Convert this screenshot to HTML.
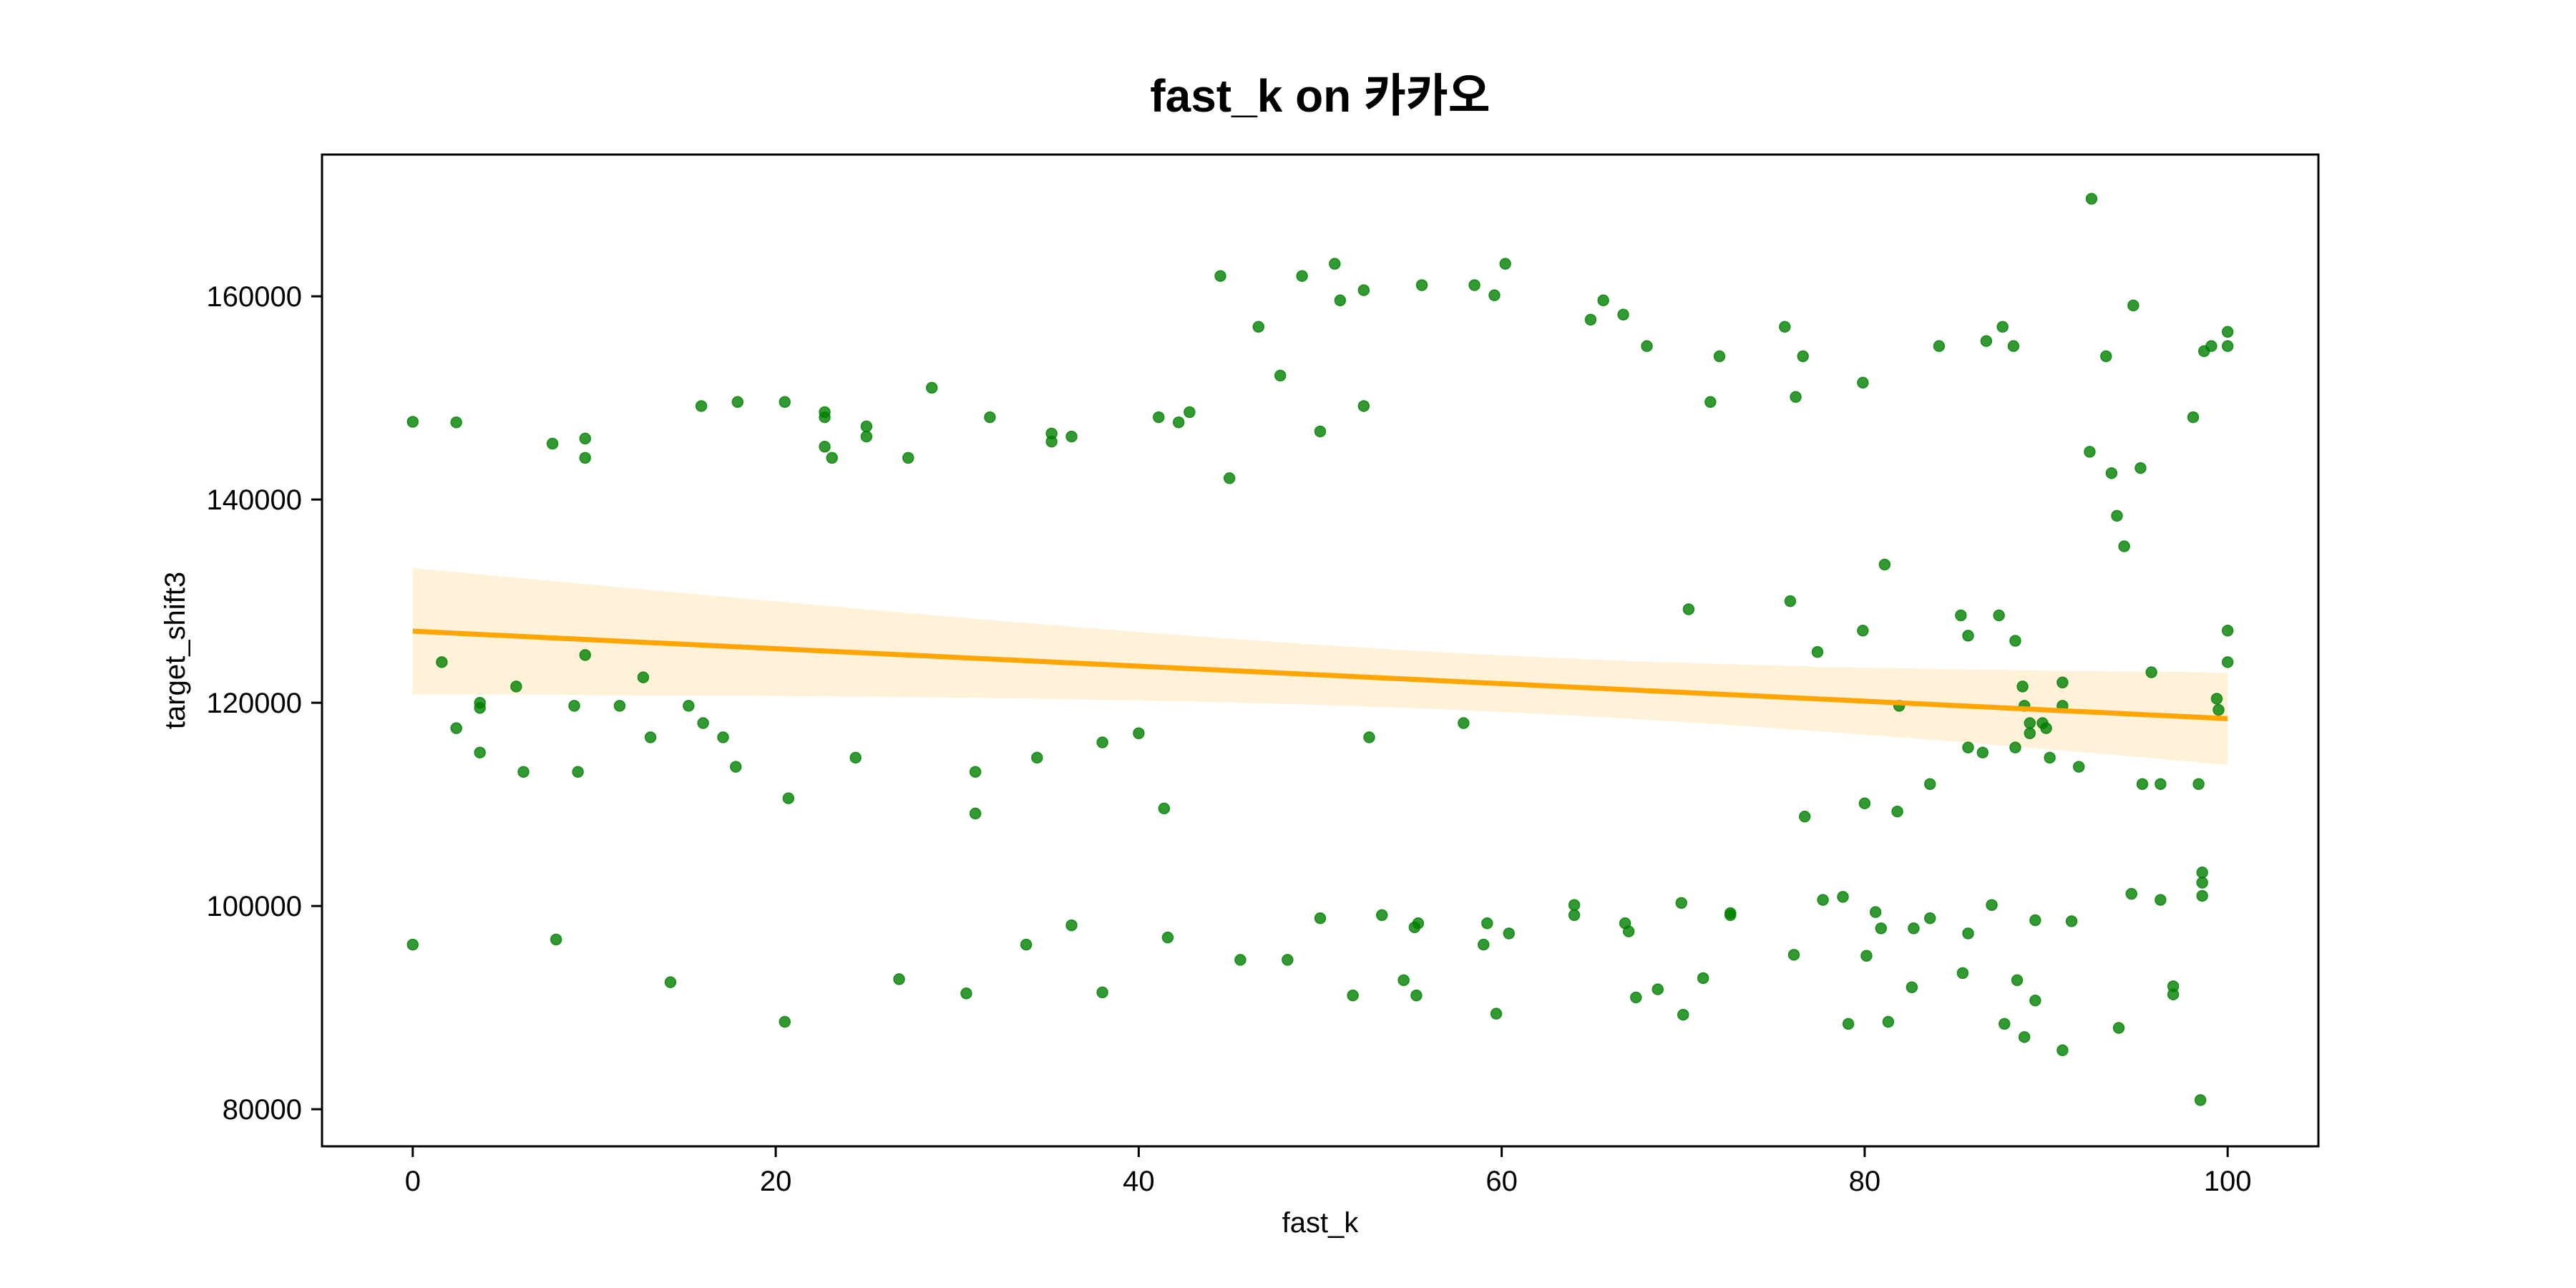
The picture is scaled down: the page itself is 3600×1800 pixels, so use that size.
<!DOCTYPE html>
<html><head><meta charset="utf-8"><style>
html,body{margin:0;padding:0;background:#fff;}
svg{display:block;font-family:"Liberation Sans","Noto Sans CJK KR",sans-serif;}
</style></head><body>
<svg id="chart" width="3600" height="1800" viewBox="0 0 3600 1800" xmlns="http://www.w3.org/2000/svg">
<rect x="0" y="0" width="3600" height="1800" fill="#fff"/>
<text x="1845" y="156" text-anchor="middle" font-size="64" font-weight="bold">fast_k on 카카오</text>
<g id="band"></g>
<g id="points"></g>
<g id="line"></g>
<rect x="450" y="216" width="2790" height="1386" fill="none" stroke="#000" stroke-width="3"/>
<g id="xticks"></g>
<g id="yticks"></g>
<text x="1845" y="1722" text-anchor="middle" font-size="40">fast_k</text>
<text x="0" y="0" transform="translate(258,909) rotate(-90)" text-anchor="middle" font-size="40">target_shift3</text>
</svg>
<script>
const xTicks = [0, 20, 40, 60, 80, 100];
const yTicks = [80000, 100000, 120000, 140000, 160000];
const xs = [0,0,1.6,2.4,2.4,3.7,3.7,3.7,5.7,6.1,7.7,7.9,8.9,9.1,9.5,9.5,9.5,12.7,11.4,13.1,14.2,15.2,15.9,16.0,17.1,17.9,17.8,20.5,20.5,20.7,22.7,22.7,22.7,23.1,24.4,25.0,25.0,26.8,27.3,28.6,30.5,31.0,31.0,31.8,33.8,34.4,35.2,35.2,36.3,36.3,38.0,38.0,40.0,41.1,41.4,41.6,42.2,42.8,44.5,45.0,45.6,46.6,47.8,48.2,49.0,50.0,50.0,50.8,51.1,51.8,52.4,52.4,52.7,53.4,54.6,55.2,55.4,55.3,55.6,57.9,58.5,59.0,59.2,59.6,59.7,60.2,60.4,64.0,64.0,64.9,65.6,66.7,66.8,67.0,67.4,68.0,68.6,69.9,70.0,70.3,71.1,71.5,72.0,72.6,72.6,75.6,75.9,76.1,76.2,76.6,76.7,77.4,77.7,78.8,79.1,79.9,79.9,80.0,80.1,80.6,80.9,81.1,81.3,81.8,81.9,82.7,82.6,83.6,83.6,84.1,85.3,85.7,85.7,85.7,85.4,86.5,86.7,87.0,87.4,87.6,87.7,88.2,88.3,88.3,88.4,88.7,88.8,88.8,89.1,89.1,89.4,89.4,89.8,90.0,90.2,90.9,90.9,90.9,91.4,91.8,92.5,92.4,93.3,93.6,93.9,94.0,94.3,94.7,94.8,95.2,95.3,95.8,96.3,96.3,97.0,97.0,98.1,98.4,98.5,98.6,98.6,98.6,98.7,99.1,99.4,99.5,100,100,100,100];
const ys = [147650,96200,124000,147600,117500,120000,119500,115100,121600,113200,145500,96700,119700,113200,146000,144100,124700,122500,119700,116600,92500,119700,149200,118000,116600,149600,113700,149600,88600,110600,148600,148100,145200,144100,114600,147200,146200,92800,144100,151000,91400,113200,109100,148100,96200,114600,146500,145700,146200,98100,116100,91500,117000,148100,109600,96900,147600,148600,162000,142100,94700,157000,152200,94700,162000,146700,98800,163200,159600,91200,160600,149200,116600,99100,92700,97900,98300,91200,161100,118000,161100,96200,98300,160100,89400,163200,97300,100100,99100,157700,159600,158200,98300,97500,91000,155100,91800,100300,89300,129200,92900,149600,154100,99100,99300,157000,130000,95200,150100,154100,108800,125000,100600,100900,88400,151500,127100,110100,95100,99400,97800,133600,88600,109300,119700,97800,92000,112000,98800,155100,128600,126600,115600,97300,93400,115100,155600,100100,128600,157000,88400,155100,126100,115600,92700,121600,119700,87100,118000,117000,98600,90700,118000,117500,114600,122000,119700,85800,98500,113700,169600,144700,154100,142600,138400,88000,135400,101200,159100,143100,112000,123000,100600,112000,92100,91300,148100,112000,80900,103300,102300,101000,154600,155100,120400,119300,156500,155100,127100,124000];

const L=450,R=3240,T=216,B=1602;
const X0=-5,X1=105,Y0=76350,Y1=173950;
const sx=v=>L+(v-X0)/(X1-X0)*(R-L);
const sy=v=>B-(v-Y0)/(Y1-Y0)*(B-T);
const NS="http://www.w3.org/2000/svg";
function mk(tag,attrs,parent){const e=document.createElementNS(NS,tag);for(const k in attrs)e.setAttribute(k,attrs[k]);parent.appendChild(e);return e;}

const n=xs.length;
const mx=xs.reduce((a,b)=>a+b,0)/n, my=ys.reduce((a,b)=>a+b,0)/n;
let sxx=0,sxy=0;for(let i=0;i<n;i++){sxx+=(xs[i]-mx)**2;sxy+=(xs[i]-mx)*(ys[i]-my);}
const slope=sxy/sxx, icpt=my-slope*mx;
let sse=0;for(let i=0;i<n;i++){sse+=(ys[i]-icpt-slope*xs[i])**2;}
const s=Math.sqrt(sse/(n-2));
const xmin=Math.min(...xs),xmax=Math.max(...xs);
const up=[],lo=[],ln=[];
for(let k=0;k<=100;k++){const x=xmin+(xmax-xmin)*k/100;const yh=icpt+slope*x;const se=1.6*s*Math.sqrt(1/n+(x-mx)**2/sxx);
up.push([sx(x),sy(yh+se)]);lo.push([sx(x),sy(yh-se)]);ln.push([sx(x),sy(yh)]);}
const bandPts=up.concat(lo.reverse()).map(p=>p.join(',')).join(' ');
const band=mk('polygon',{points:bandPts,fill:'#ffa500','fill-opacity':'0.15',stroke:'none'},document.getElementById('band'));



const pg=document.getElementById('points');
for(let i=0;i<n;i++){
  const c=mk('circle',{cx:sx(xs[i]),cy:sy(ys[i]),r:7.5,fill:'#008000','fill-opacity':'0.8',stroke:'#008000','stroke-opacity':'0.8','stroke-width':1.5},pg);
  
  
}
const pl=mk('polyline',{points:ln.map(p=>p.join(',')).join(' '),fill:'none',stroke:'#ffa500','stroke-width':7},document.getElementById('line'));



const xg=document.getElementById('xticks');
xTicks.forEach(v=>{
  const t=mk('line',{x1:sx(v),x2:sx(v),y1:B,y2:B+15,stroke:'#000','stroke-width':3},xg);
  
  
  const l=mk('text',{x:sx(v),y:B+62,'text-anchor':'middle','font-size':40},xg);
  l.textContent=v;
  
  
});
const yg=document.getElementById('yticks');
yTicks.forEach(v=>{
  const t=mk('line',{x1:L-15,x2:L,y1:sy(v),y2:sy(v),stroke:'#000','stroke-width':3},yg);
  
  
  const l=mk('text',{x:L-28,y:sy(v)+14,'text-anchor':'end','font-size':40},yg);
  l.textContent=v;
  
  
});
</script>
</body></html>
